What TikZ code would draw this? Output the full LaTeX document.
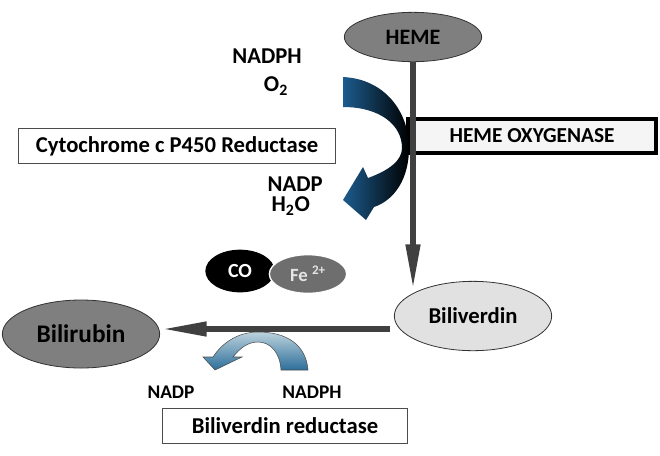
\documentclass[tikz,border=0pt]{standalone}
\usepackage{fontspec}
\setmainfont{Carlito}
\usetikzlibrary{shapes.geometric,arrows.meta}
\definecolor{hemegray}{HTML}{7F7F7F}
\definecolor{shaftgray}{HTML}{404040}
\definecolor{verdgray}{HTML}{E1E1E1}
\definecolor{fegray}{HTML}{6E6E6E}
\definecolor{deepblue}{HTML}{1C5C8E}
\definecolor{paleblue}{HTML}{BCD2DD}
\definecolor{midblue}{HTML}{2C6E9A}

\begin{document}
\begin{tikzpicture}[x=0.75pt,y=-0.75pt,
    txt/.style={font=\bfseries\fontsize{#1}{15}\selectfont,inner sep=1pt},
    blob/.style={ellipse,draw=black!80,line width=0.6pt,inner sep=0pt},
    enzyme/.style={draw=black!70,line width=0.6pt,fill=white,inner sep=0pt,
      minimum height=26pt},
    pathway/.style={draw=shaftgray,line width=4.8pt,
      -{Triangle[length=35pt,width=10pt]}}]
  \useasboundingbox (0,0) rectangle (660,455);

  % enzymes
  \node[enzyme,draw=black,line width=3pt,fill=black!4,minimum width=186pt,
    minimum height=25pt,txt=16] (ho) at (532,136) {HEME OXYGENASE};
  \node[enzyme,minimum width=238pt,txt=17] (cyp) at (177,146)
    {Cytochrome c P450 Reductase};
  \node[enzyme,minimum width=184pt,txt=17] (bvr) at (285,426)
    {Biliverdin reductase};

  % cofactors
  \node[txt=17] (nadph) at (267,56) {NADPH};
  \node[txt=17] (otwo) at (276,86) {O\textsubscript{2}};
  \node[txt=17,align=left,anchor=west] (nadp) at (266,196)
    {NADP\\\hspace{3pt}H\textsubscript{2}O};
  \node[txt=14.5] (nadpb) at (171,392) {NADP};
  \node[txt=14.5] (nadphb) at (312,392) {NADPH};

  % curved arrows
  \shade[left color=deepblue,right color=black]
    (343,77) .. controls (385,79) and (409,112) .. (409,148)
    .. controls (409,178) and (395,200) .. (374,207)
    -- (366,220) -- (343,200) -- (363,167) -- (368,178)
    .. controls (390,170) and (402,160) .. (402,148)
    .. controls (402,125) and (380,107) .. (343,107) -- cycle;
  \shade[top color=paleblue,bottom color=midblue,draw=black!70,line width=0.4pt]
    (308,370) .. controls (306,345) and (287,332) .. (258,332)
    .. controls (238,332) and (222,343) .. (213,357)
    -- (203,357) -- (215,370) -- (242,357) -- (233,357)
    .. controls (240,348) and (248,342) .. (258,342)
    .. controls (270,342) and (280,352) .. (281,370) -- cycle;

  % metabolites
  \node[blob,fill=hemegray,minimum width=103pt,minimum height=37pt,txt=16.5]
    (heme) at (413,37) {HEME};
  \node[blob,fill=verdgray,minimum width=118pt,minimum height=52pt,txt=17]
    (biliverdin) at (473,316) {\raisebox{-2pt}{Biliverdin}};
  \node[blob,fill=hemegray,minimum width=118pt,minimum height=51pt,txt=19]
    (bilirubin) at (81,334) {\raisebox{-3pt}{Bilirubin}};
  \node[blob,draw=none,fill=black,text=white,minimum width=52pt,
    minimum height=32pt,txt=15] (co) at (240,271) {CO};
  \node[blob,draw=white,line width=1pt,fill=fegray,text=black!10,
    minimum width=58pt,minimum height=29pt,txt=14] (fe) at (308,274)
    {Fe \textsuperscript{2+}};

  \coordinate (hotip) at (413,291);
  \coordinate (brstart) at (390,329);
  \draw[pathway] (heme.south) -- (hotip);
  \draw[pathway] (brstart) -- (brstart -| bilirubin.east);
\end{tikzpicture}
\end{document}
